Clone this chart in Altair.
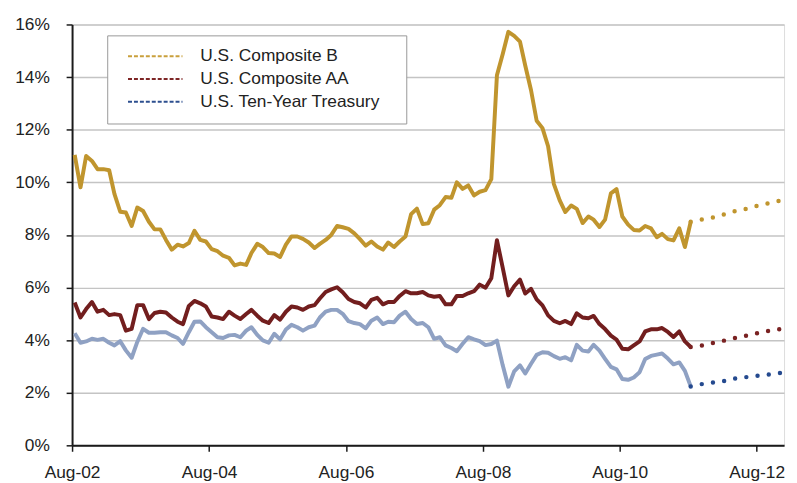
import altair as alt
import pandas as pd

# ---------------- data (monthly, Aug-2002 onward) ----------------
series_names = ["U.S. Composite B", "U.S. Composite AA", "U.S. Ten-Year Treasury"]

composite_b = [
    11.04, 9.81, 11.00, 10.81, 10.50, 10.50, 10.46, 9.56, 8.88, 8.85,
    8.34, 9.04, 8.91, 8.50, 8.21, 8.21, 7.81, 7.44, 7.63, 7.56,
    7.69, 8.16, 7.81, 7.75, 7.46, 7.38, 7.21, 7.13, 6.84, 6.91,
    6.86, 7.31, 7.66, 7.54, 7.31, 7.29, 7.16, 7.63, 7.94, 7.94,
    7.85, 7.71, 7.50, 7.66, 7.81, 8.00, 8.34, 8.29, 8.23, 8.06,
    7.84, 7.59, 7.75, 7.56, 7.44, 7.71, 7.54, 7.75, 7.94, 8.79,
    9.00, 8.41, 8.44, 8.96, 9.13, 9.44, 9.41, 10.00, 9.75, 9.88,
    9.50, 9.64, 9.70, 10.12, 14.07, 14.88, 15.72, 15.57, 15.35, 14.44,
    13.50, 12.34, 12.06, 11.37, 9.93, 9.31, 8.87, 9.12, 8.99, 8.45,
    8.70, 8.58, 8.30, 8.58, 9.58, 9.74, 8.70, 8.39, 8.19, 8.17,
    8.34, 8.25, 7.91, 8.04, 7.84, 7.79, 8.25, 7.54, 8.50,
]

composite_aa = [
    5.43, 4.86, 5.18, 5.45, 5.08, 5.15, 4.95, 4.99, 4.95, 4.36,
    4.43, 5.33, 5.33, 4.80, 5.03, 5.08, 5.05, 4.86, 4.70, 4.61,
    5.30, 5.49, 5.40, 5.28, 4.90, 4.86, 4.80, 5.08, 4.93, 4.80,
    4.99, 5.15, 4.93, 4.74, 4.65, 4.95, 4.78, 5.08, 5.28, 5.24,
    5.15, 5.28, 5.33, 5.58, 5.83, 5.93, 6.01, 5.82, 5.56, 5.45,
    5.40, 5.24, 5.53, 5.61, 5.36, 5.45, 5.45, 5.68, 5.86, 5.78,
    5.78, 5.83, 5.70, 5.65, 5.68, 5.36, 5.36, 5.68, 5.68, 5.78,
    5.86, 6.11, 5.99, 6.35, 7.80, 6.75, 5.70, 6.05, 6.30, 5.77,
    5.95, 5.55, 5.32, 4.94, 4.73, 4.64, 4.73, 4.61, 5.02, 4.86,
    4.83, 4.92, 4.61, 4.42, 4.17, 4.02, 3.67, 3.65, 3.80, 3.95,
    4.33, 4.41, 4.41, 4.46, 4.31, 4.12, 4.33, 3.95, 3.74,
]

treasury = [
    4.26, 3.90, 3.95, 4.05, 4.01, 4.05, 3.90, 3.80, 3.96, 3.61,
    3.33, 3.93, 4.43, 4.28, 4.28, 4.30, 4.30, 4.18, 4.08, 3.86,
    4.30, 4.70, 4.71, 4.49, 4.30, 4.11, 4.08, 4.18, 4.20, 4.11,
    4.36, 4.49, 4.20, 3.99, 3.90, 4.24, 4.03, 4.40, 4.58, 4.49,
    4.36, 4.49, 4.55, 4.86, 5.08, 5.15, 5.15, 5.00, 4.72, 4.65,
    4.61, 4.45, 4.74, 4.86, 4.61, 4.70, 4.68, 4.93, 5.08, 4.80,
    4.61, 4.65, 4.49, 4.05, 4.11, 3.80, 3.70, 3.58, 3.86, 4.11,
    4.03, 3.96, 3.81, 3.85, 3.98, 3.04, 2.23, 2.81, 3.04, 2.73,
    3.10, 3.44, 3.54, 3.52, 3.39, 3.29, 3.35, 3.23, 3.82, 3.60,
    3.57, 3.82, 3.60, 3.29, 2.98, 2.89, 2.52, 2.49, 2.58, 2.78,
    3.28, 3.40, 3.45, 3.49, 3.30, 3.08, 3.15, 2.83, 2.24,
]

# forecast (dotted) – month offsets from Aug-2002
forecast_months = [108, 110, 112, 114, 116, 118, 120, 122, 124]
forecast_b = [8.50, 8.59, 8.67, 8.79, 8.92, 9.00, 9.13, 9.22, 9.32]
forecast_aa = [3.74, 3.80, 3.90, 3.99, 4.09, 4.18, 4.28, 4.37, 4.43]
forecast_t = [2.24, 2.33, 2.39, 2.45, 2.55, 2.60, 2.65, 2.70, 2.76]

x_tick_years = [2002, 2004, 2006, 2008, 2010, 2012]
y_ticks = [0, 2, 4, 6, 8, 10, 12, 14, 16]

solid_colors = ["#C0952E", "#721E1E", "#8FA1C3"]
dot_colors = ["#C0952E", "#7A2222", "#254A8F"]
legend_colors = ["#C9A03C", "#7E2626", "#2D4F8F"]


def month_date(i):
    k = 7 + i
    return f"{2002 + k // 12}-{k % 12 + 1:02d}-15T00:00:00"


hist_rows = []
for name, vals in zip(series_names, [composite_b, composite_aa, treasury]):
    for i, v in enumerate(vals):
        hist_rows.append({"date": month_date(i), "value": v, "series": name})
hist = pd.DataFrame(hist_rows)

fc_rows = []
for name, vals in zip(series_names, [forecast_b, forecast_aa, forecast_t]):
    for i, v in zip(forecast_months, vals):
        fc_rows.append({"date": month_date(i), "value": v, "series": name})
fc = pd.DataFrame(fc_rows)

FONT = "Liberation Sans"
TXT = "#222222"
FS = 17.5

x_enc = alt.X(
    "date:T",
    title=None,
    scale=alt.Scale(domain=[alt.DateTime(year=2002, month=8, date=1),
                            alt.DateTime(year=2012, month=12, date=25)]),
    axis=alt.Axis(
        values=[alt.DateTime(year=y, month=8, date=1) for y in x_tick_years],
        format="%b-%y",
        grid=False,
        tickSize=6,
        tickWidth=1.5,
        tickColor="#1a1a1a",
        domainColor="#1a1a1a",
        domainWidth=2,
        labelPadding=12,
        labelFont=FONT,
        labelFontSize=FS,
        labelColor=TXT,
        labelFlush=False,
    ),
)

y_enc = alt.Y(
    "value:Q",
    title=None,
    scale=alt.Scale(domain=[0, 16], nice=False),
    axis=alt.Axis(
        values=y_ticks,
        labelExpr="datum.value + '%'",
        grid=True,
        gridColor="#C4C4C4",
        gridWidth=1.5,
        tickSize=6,
        tickWidth=1.5,
        tickColor="#1a1a1a",
        domainColor="#1a1a1a",
        domainWidth=2,
        labelPadding=17,
        labelFont=FONT,
        labelFontSize=FS,
        labelColor=TXT,
    ),
)

solid = alt.Chart(hist).mark_line(strokeWidth=4, strokeJoin="round").encode(
    x=x_enc,
    y=y_enc,
    color=alt.Color("series:N",
                    scale=alt.Scale(domain=series_names, range=solid_colors),
                    legend=None),
)

dotted = alt.Chart(fc).mark_line(
    strokeWidth=4.5, strokeDash=[0, 11.4], strokeCap="round"
).encode(
    x=x_enc,
    y=y_enc,
    color=alt.Color("series:N",
                    scale=alt.Scale(domain=series_names, range=dot_colors),
                    legend=None),
)

# legend-only layer (draws no line itself; its scale has an explicit domain)
legend_layer = alt.Chart(fc).transform_filter("false").mark_line(
    strokeWidth=2, strokeDash=[4, 2]
).encode(
    x=x_enc,
    y=y_enc,
    color=alt.Color(
        "series:N",
        scale=alt.Scale(domain=series_names, range=legend_colors),
        legend=alt.Legend(
            title=None,
            orient="none",
            legendX=35.5,
            legendY=11,
            symbolType="stroke",
            symbolSize=3025,
            symbolStrokeWidth=2,
            symbolDash=[4, 2],
            labelFont=FONT,
            labelFontSize=FS,
            labelColor=TXT,
            labelLimit=400,
            labelExpr="datum.label + '\u2800'",
            labelOffset=17,
            symbolOffset=7,
            padding=13,
            rowPadding=5,
            clipHeight=16,
            strokeColor="#999999",
            fillColor="white",
        ),
    ),
)

chart = (
    alt.layer(solid, dotted, legend_layer)
    .resolve_scale(color="independent")
    .properties(
        width=719,
        height=425,
        autosize=alt.AutoSizeParams(type="none"),
        padding={"left": 64.7, "top": 14.3, "right": 5, "bottom": 36},
    )
    .configure_view(stroke=None)
    .configure(background="white")
)

chart.save("out.html", embed_options={"renderer": "svg", "actions": False})
